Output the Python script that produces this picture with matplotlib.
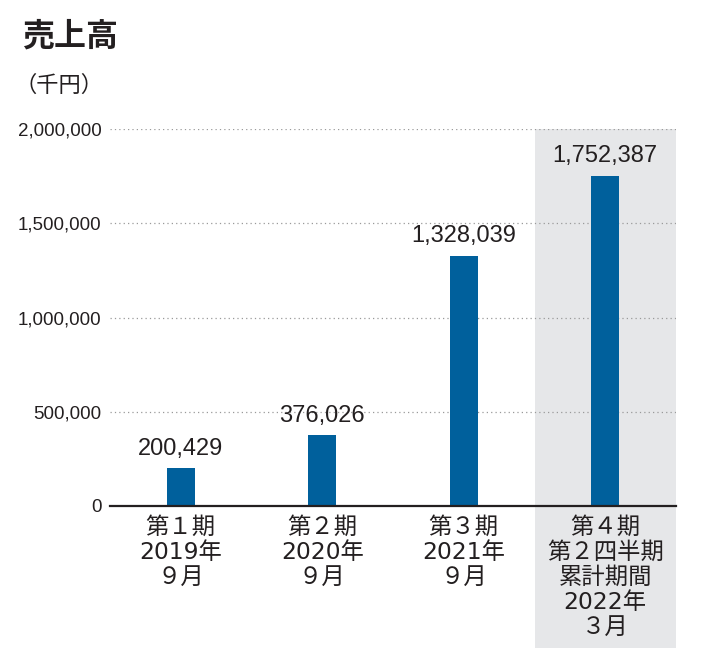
import matplotlib.pyplot as plt
from matplotlib.patches import Rectangle
from matplotlib.transforms import blended_transform_factory

# data (thousand yen)
periods = ["第１期\n2019年\n９月",
           "第２期\n2020年\n９月",
           "第３期\n2021年\n９月",
           "第４期\n第２四半期\n累計期間\n2022年\n３月"]
sales = [200429, 376026, 1328039, 1752387]
yticks = [0, 500000, 1000000, 1500000, 2000000]

bar_color = "#00609C"
band_color = "#E6E7E9"
num_font = ["Liberation Sans", "Noto Sans CJK JP"]
cat_font = ["DejaVu Sans", "Noto Sans CJK JP"]

fig = plt.figure(figsize=(7.27, 6.6), dpi=100)
ax = fig.add_axes([110 / 727, 154 / 660, 566 / 727, 377 / 660])

x = list(range(len(sales)))

# grey band behind the latest period, running down past the axis
trans = blended_transform_factory(ax.transData, ax.transAxes)
band = Rectangle((2.5, -0.377), 1.0, 1.377, transform=trans,
                 facecolor=band_color, edgecolor="none", clip_on=False, zorder=0)
ax.add_patch(band)

# dotted gridlines
for v in yticks[1:]:
    ax.axhline(v, color="#9A9A9A", lw=0.9, ls=(0, (1, 2.5)), zorder=1)

ax.bar(x, sales, width=0.2, color=bar_color, zorder=3)

for xi, v in zip(x, sales):
    ax.text(xi, v + 45000, f"{v:,}", ha="center", va="bottom",
            fontsize=17, family=num_font, color="#231F20", zorder=4)

ax.set_xlim(-0.5, 3.5)
ax.set_ylim(0, 2000000)

ax.set_yticks(yticks)
ax.set_yticklabels([f"{v:,}" for v in yticks], family=num_font,
                   fontsize=13.5, color="#231F20")
ax.set_xticks(x)
ax.set_xticklabels(periods, family=cat_font, fontsize=16.8,
                   color="#231F20", linespacing=1.11)
ax.tick_params(axis="both", length=0)
ax.tick_params(axis="y", pad=6)
ax.tick_params(axis="x", pad=7)

for s in ["top", "right", "left"]:
    ax.spines[s].set_visible(False)
ax.spines["bottom"].set_color("#231F20")
ax.spines["bottom"].set_linewidth(1.6)
ax.spines["bottom"].set_zorder(5)
ax.patch.set_alpha(0)

fig.text(22 / 727, 1 - 37 / 660, "売上高", fontsize=23, fontweight="bold",
         family=["Noto Sans CJK JP"], va="center", ha="left", color="#231F20")
fig.text(15 / 727, 1 - 85 / 660, "（千円）", fontsize=16,
         family=["Noto Sans CJK JP"], va="center", ha="left", color="#231F20")

fig.savefig("out.png", dpi=100, facecolor="white")
